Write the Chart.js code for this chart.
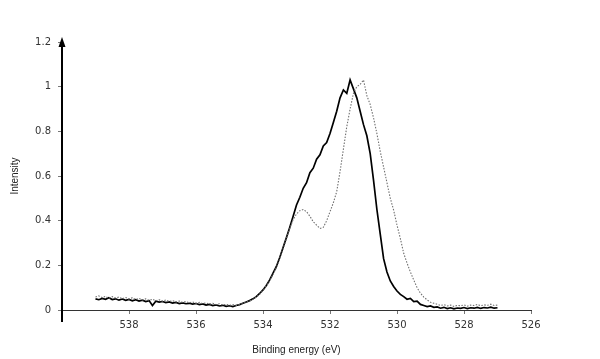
<!DOCTYPE html>
<html>
<head>
<meta charset="utf-8">
<script src="https://cdn.jsdelivr.net/npm/chart.js@4/dist/chart.umd.min.js"></script>
<style>
  html, body { margin: 0; padding: 0; background: #fff; }
  canvas { display: block; }
</style>
</head>
<body>
<canvas id="grafico" width="600" height="359"></canvas>
<script>
// valores
const energia = [
  539.0,538.9,538.8,538.7,538.6,538.5,538.4,538.3,538.2,538.1,
  538.0,537.9,537.8,537.7,537.6,537.5,537.4,537.3,537.2,537.1,
  537.0,536.9,536.8,536.7,536.6,536.5,536.4,536.3,536.2,536.1,
  536.0,535.9,535.8,535.7,535.6,535.5,535.4,535.3,535.2,535.1,
  535.0,534.9,534.8,534.7,534.6,534.5,534.4,534.3,534.2,534.1,
  534.0,533.9,533.8,533.7,533.6,533.5,533.4,533.3,533.2,533.1,
  533.0,532.9,532.8,532.7,532.6,532.5,532.4,532.3,532.2,532.1,
  532.0,531.9,531.8,531.7,531.6,531.5,531.4,531.3,531.2,531.1,
  531.0,530.9,530.8,530.7,530.6,530.5,530.4,530.3,530.2,530.1,
  530.0,529.9,529.8,529.7,529.6,529.5,529.4,529.3,529.2,529.1,
  529.0,528.9,528.8,528.7,528.6,528.5,528.4,528.3,528.2,528.1,
  528.0,527.9,527.8,527.7,527.6,527.5,527.4,527.3,527.2,527.1,
  527.0
];

const serieContinua = [
  0.050,0.046,0.052,0.048,0.055,0.047,0.050,0.044,0.049,0.043,
  0.047,0.041,0.046,0.040,0.044,0.038,0.042,0.020,0.039,0.035,
  0.038,0.033,0.036,0.031,0.034,0.029,0.032,0.028,0.030,0.026,
  0.029,0.024,0.027,0.022,0.025,0.020,0.023,0.018,0.021,0.016,
  0.019,0.015,0.020,0.024,0.030,0.036,0.042,0.050,0.060,0.074,
  0.090,0.110,0.135,0.165,0.195,0.235,0.280,0.325,0.370,0.420,
  0.470,0.505,0.545,0.570,0.615,0.635,0.675,0.695,0.735,0.750,
  0.790,0.840,0.890,0.950,0.985,0.970,1.030,0.990,0.950,0.890,
  0.830,0.780,0.700,0.580,0.450,0.340,0.230,0.170,0.130,0.105,
  0.085,0.070,0.060,0.048,0.052,0.038,0.040,0.025,0.020,0.015,
  0.018,0.012,0.014,0.008,0.012,0.006,0.010,0.005,0.009,0.007,
  0.011,0.006,0.010,0.008,0.012,0.007,0.011,0.009,0.013,0.008,
  0.010
];

const seriePunteada = [
  0.058,0.063,0.055,0.061,0.052,0.060,0.054,0.058,0.050,0.056,
  0.049,0.055,0.047,0.052,0.045,0.050,0.043,0.048,0.041,0.046,
  0.040,0.045,0.038,0.042,0.036,0.040,0.034,0.038,0.032,0.036,
  0.030,0.034,0.028,0.032,0.026,0.030,0.024,0.028,0.022,0.026,
  0.021,0.024,0.020,0.025,0.029,0.035,0.040,0.048,0.058,0.070,
  0.088,0.108,0.130,0.160,0.190,0.230,0.275,0.320,0.365,0.405,
  0.430,0.445,0.450,0.440,0.420,0.395,0.380,0.365,0.370,0.400,
  0.440,0.480,0.530,0.620,0.720,0.820,0.900,0.970,1.000,1.010,
  1.030,0.960,0.920,0.860,0.790,0.710,0.640,0.570,0.500,0.447,
  0.380,0.320,0.254,0.210,0.170,0.134,0.100,0.075,0.058,0.045,
  0.035,0.030,0.026,0.020,0.024,0.018,0.022,0.016,0.021,0.019,
  0.023,0.017,0.022,0.020,0.025,0.019,0.023,0.021,0.026,0.020,
  0.022
];

const ticksX = [538, 536, 534, 532, 530, 528, 526];
const ticksY = [0, 0.2, 0.4, 0.6, 0.8, 1, 1.2];

// flecha del eje Y y su prolongación por debajo del eje X
const flechaEje = {
  id: 'flechaEje',
  afterDraw(chart) {
    const { ctx, chartArea } = chart;
    const x0 = chartArea.left;
    ctx.save();
    ctx.strokeStyle = '#000';
    ctx.lineWidth = 2;
    ctx.beginPath();
    ctx.moveTo(x0, chartArea.bottom);
    ctx.lineTo(x0, chartArea.bottom + 12);
    ctx.moveTo(x0, chartArea.top);
    ctx.lineTo(x0, chartArea.top - 2);
    ctx.stroke();
    ctx.fillStyle = '#000';
    ctx.beginPath();
    ctx.moveTo(x0, chartArea.top - 5);
    ctx.lineTo(x0 - 3.5, chartArea.top + 5);
    ctx.lineTo(x0 + 3.5, chartArea.top + 5);
    ctx.closePath();
    ctx.fill();
    ctx.restore();
  }
};

const puntos = arr => energia.map((e, i) => ({ x: e, y: arr[i] }));

new Chart(document.getElementById('grafico'), {
  type: 'line',
  data: {
    datasets: [
      {
        label: 'punteada',
        data: puntos(seriePunteada),
        borderColor: '#707070',
        borderWidth: 1.1,
        borderDash: [1.5, 1.5],
        pointRadius: 0,
        tension: 0
      },
      {
        label: 'continua',
        data: puntos(serieContinua),
        borderColor: '#000',
        borderWidth: 1.7,
        pointRadius: 0,
        tension: 0
      }
    ]
  },
  options: {
    responsive: false,
    animation: false,
    layout: { padding: { left: 0, top: 42, right: 69, bottom: 0 } },
    plugins: { legend: { display: false }, tooltip: { enabled: false } },
    scales: {
      x: {
        type: 'linear',
        reverse: true,
        min: 526,
        max: 540,
        afterBuildTicks: s => { s.ticks = ticksX.map(v => ({ value: v })); },
        afterFit: s => { s.height = 49; },
        ticks: {
          color: '#333',
          font: { family: 'DejaVu Sans', size: 10 },
          padding: 5,
          maxRotation: 0,
          callback: v => String(v)
        },
        grid: { drawOnChartArea: false, tickLength: 4, tickColor: '#777' },
        border: { color: '#333', width: 1 },
        title: {
          display: true,
          text: 'Binding energy (eV)',
          color: '#222',
          font: { family: 'Liberation Sans', size: 10 },
          padding: { top: 0, bottom: 3 }
        }
      },
      y: {
        min: 0,
        max: 1.2,
        afterBuildTicks: s => { s.ticks = ticksY.map(v => ({ value: v })); },
        afterFit: s => { s.width = 62; },
        ticks: {
          color: '#333',
          font: { family: 'DejaVu Sans', size: 10 },
          padding: 7,
          callback: v => String(Math.round(v * 10) / 10)
        },
        grid: { drawOnChartArea: false, tickLength: 4, tickColor: '#777' },
        border: { color: '#000', width: 2 },
        title: {
          display: true,
          text: 'Intensity',
          color: '#222',
          font: { family: 'Liberation Sans', size: 10 },
          padding: { top: 9, bottom: 0 }
        }
      }
    }
  },
  plugins: [flechaEje]
});
</script>
</body>
</html>
